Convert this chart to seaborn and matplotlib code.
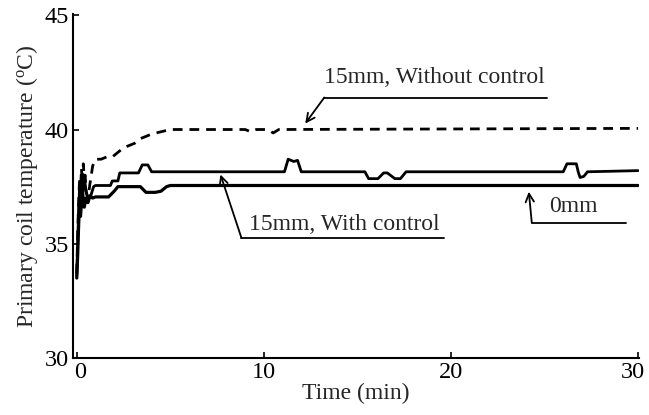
import numpy as np
import pandas as pd
import matplotlib
matplotlib.use("Agg")
import matplotlib.pyplot as plt
import matplotlib.transforms as mtransforms
import seaborn as sns

# ---- data ----
t_without = [0, 0.05, 0.1, 0.15, 0.2, 0.25, 0.3, 0.35, 0.4, 0.45, 0.5, 0.6, 0.7, 0.85, 1.0,
             1.3, 1.6, 1.9, 2.2, 2.5, 2.8, 3.1, 3.4, 3.7, 4.0, 4.5, 5.0, 9.0, 9.3, 9.6,
             10.2, 10.5, 10.8, 30]
T_without = [33.7, 35.5, 36.8, 37.8, 37.2, 38.3, 37.6, 38.5, 37.9, 38.0, 37.3, 37.0, 37.6, 38.4, 38.7,
             38.7, 38.8, 38.8, 39.0, 39.2, 39.3, 39.4, 39.6, 39.7, 39.8, 39.9, 40.0, 40.0, 39.9, 40.0,
             40.0, 39.85, 40.0, 40.05]

t_with = [0, 0.05, 0.1, 0.15, 0.2, 0.25, 0.3, 0.4, 0.5, 0.6, 0.75, 0.9, 1.0, 1.8, 1.9, 2.2, 2.3,
          3.3, 3.5, 3.8, 4.0, 11.1, 11.3, 11.6, 11.8, 12.0, 15.4, 15.6, 16.1, 16.4, 16.6, 17.0,
          17.3, 17.6, 26.0, 26.2, 26.7, 26.8, 26.9, 27.1, 27.3, 30]
T_with = [33.6, 35.0, 36.5, 37.4, 36.8, 37.6, 37.0, 37.9, 37.3, 36.9, 37.1, 37.5, 37.55, 37.55, 37.75,
          37.75, 38.1, 38.1, 38.45, 38.45, 38.15, 38.15, 38.7, 38.6, 38.65, 38.15, 38.15, 37.85,
          37.85, 38.1, 38.1, 37.85, 37.85, 38.15, 38.15, 38.5, 38.5, 38.15, 37.9, 37.95, 38.15, 38.2]

t_0mm = [0, 0.05, 0.1, 0.15, 0.2, 0.3, 0.4, 0.5, 0.6, 0.7, 0.85, 1.0, 1.7, 2.0, 2.2, 3.4, 3.7,
         4.2, 4.5, 4.8, 5.0, 30]
T_0mm = [33.5, 34.5, 35.8, 36.8, 36.2, 37.3, 36.6, 37.0, 36.8, 37.1, 37.0, 37.05, 37.05, 37.3, 37.5,
         37.5, 37.25, 37.25, 37.3, 37.5, 37.55, 37.55]

x_ticks = [0, 10, 20, 30]
y_ticks = [30, 35, 40, 45]

# ---- style ----
sns.set_style("ticks")
plt.rcParams['font.family'] = ['Liberation Serif', 'DejaVu Serif']
plt.rcParams['mathtext.fontset'] = 'stix'

fig = plt.figure(figsize=(6.49, 4.15), dpi=100)
ax = fig.add_axes([0.1125, 0.1373, 0.8721, 0.8287])

df_without = pd.DataFrame({"t": t_without, "T": T_without})
df_with = pd.DataFrame({"t": t_with, "T": T_with})
df_0 = pd.DataFrame({"t": t_0mm, "T": T_0mm})

sns.lineplot(data=df_without, x="t", y="T", ax=ax, estimator=None, sort=False,
             color="black", linewidth=2.0, linestyle=(0, (3.5, 2.5)))
sns.lineplot(data=df_with, x="t", y="T", ax=ax, estimator=None, sort=False,
             color="black", linewidth=2.0)
sns.lineplot(data=df_0, x="t", y="T", ax=ax, estimator=None, sort=False,
             color="black", linewidth=2.3)

ax.set_xlim(-0.2, 30.05)
ax.set_ylim(30, 45.05)
ax.set_xticks(x_ticks)
ax.set_yticks(y_ticks)
ax.tick_params(direction="in", length=4, width=1.2, labelsize=17.5, colors="black", pad=3)
for s in ["top", "right"]:
    ax.spines[s].set_visible(False)
for s in ["left", "bottom"]:
    ax.spines[s].set_linewidth(1.5)
    ax.spines[s].set_color("black")

# nudge the end tick labels as in the reference
xlabels = ax.get_xticklabels()
xlabels[0].set_transform(xlabels[0].get_transform() +
                         mtransforms.ScaledTranslation(3 / 100, 0, fig.dpi_scale_trans))
xlabels[-1].set_transform(xlabels[-1].get_transform() +
                          mtransforms.ScaledTranslation(-5 / 100, 0, fig.dpi_scale_trans))

ax.set_xlabel("Time (min)", fontsize=17, labelpad=0)
ax.set_ylabel("Primary coil temperature ($\\mathregular{^o}$C)", fontsize=17, labelpad=3)

# ---- annotations ----
annotations = [
    # text, text center, underline (x0, x1, y), arrow tip
    ("15mm, Without control", (19.1, 42.28), (13.23, 25.12, 41.40), (12.21, 40.26)),
    ("15mm, With control", (14.29, 35.83), (8.8, 19.63, 35.26), (7.68, 38.03)),
    ("0mm", (26.56, 36.62), (24.32, 29.33, 35.92), (24.16, 37.28)),
]
for text, (tx, ty), (ux0, ux1, uy), (ax_, ay_) in annotations:
    ax.text(tx, ty, text, fontsize=17, ha="center", va="center")
    ax.plot([ux0, ux1], [uy, uy], color="black", linewidth=1.3)
    ax.annotate("", xy=(ax_, ay_), xytext=(ux0, uy),
                arrowprops=dict(arrowstyle="->", color="black", lw=1.3,
                                mutation_scale=15, shrinkA=0, shrinkB=0))

fig.savefig("out.png", dpi=100)
